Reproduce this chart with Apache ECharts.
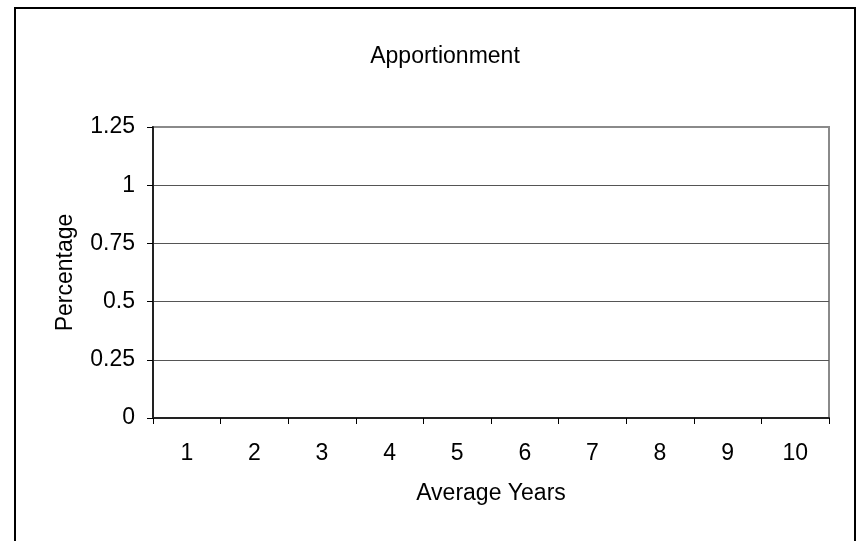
<!DOCTYPE html>
<html>
<head>
<meta charset="utf-8">
<script src="https://cdn.jsdelivr.net/npm/echarts@6/dist/echarts.min.js"></script>
<style>
html,body{margin:0;padding:0;background:#fff;}
#chart{width:861px;height:541px;}
</style>
</head>
<body>
<div id="chart"></div>
<script>
const titleText = 'Apportionment';
const categories = ['1','2','3','4','5','6','7','8','9','10'];
const values = [null,null,null,null,null,null,null,null,null,null];
const yTicks = {min:0, max:1.25, interval:0.25};
const xName = 'Average Years';
const yName = 'Percentage';

const FONT = '"Liberation Sans", Arial, sans-serif';
const FS = 23;
const chart = echarts.init(document.getElementById('chart'), null, {renderer:'canvas'});
chart.setOption({
  animation:false,
  backgroundColor:'#fff',
  title:{text:titleText, left:440, top:40, textAlign:'center',
    textStyle:{fontFamily:FONT, fontSize:FS, fontWeight:'normal', color:'#000'}},
  graphic:[{type:'rect', shape:{x:15, y:8, width:840, height:600},
    style:{fill:null, stroke:'#000', lineWidth:2}, silent:true, z:100}],
  grid:{left:153, right:32, top:127, bottom:123, show:true, borderColor:'#8a8a8a', borderWidth:2, backgroundColor:'#fff'},
  xAxis:{type:'category', data:categories, boundaryGap:true,
    name:xName, nameLocation:'middle', nameGap:64,
    nameTextStyle:{fontFamily:FONT, fontSize:FS, color:'#000'},
    axisLine:{lineStyle:{color:'#222', width:2}},
    axisTick:{show:true, length:6, inside:false, lineStyle:{color:'#000', width:1}},
    axisLabel:{fontFamily:FONT, fontSize:FS, color:'#000', margin:24},
    splitLine:{show:false}},
  yAxis:{type:'value', min:yTicks.min, max:yTicks.max, interval:yTicks.interval,
    name:yName, nameLocation:'middle', nameGap:76, nameRotate:90,
    nameTextStyle:{fontFamily:FONT, fontSize:FS, color:'#000'},
    axisLine:{show:true, lineStyle:{color:'#222', width:2}},
    axisTick:{show:true, length:6, lineStyle:{color:'#000', width:1}},
    axisLabel:{fontFamily:FONT, fontSize:FS, color:'#000', margin:18},
    splitLine:{show:true, showMinLine:false, showMaxLine:false, lineStyle:{color:'#555', width:1}}},
  series:[{type:'line', data:values, symbol:'none'}]
});
</script>
</body>
</html>
